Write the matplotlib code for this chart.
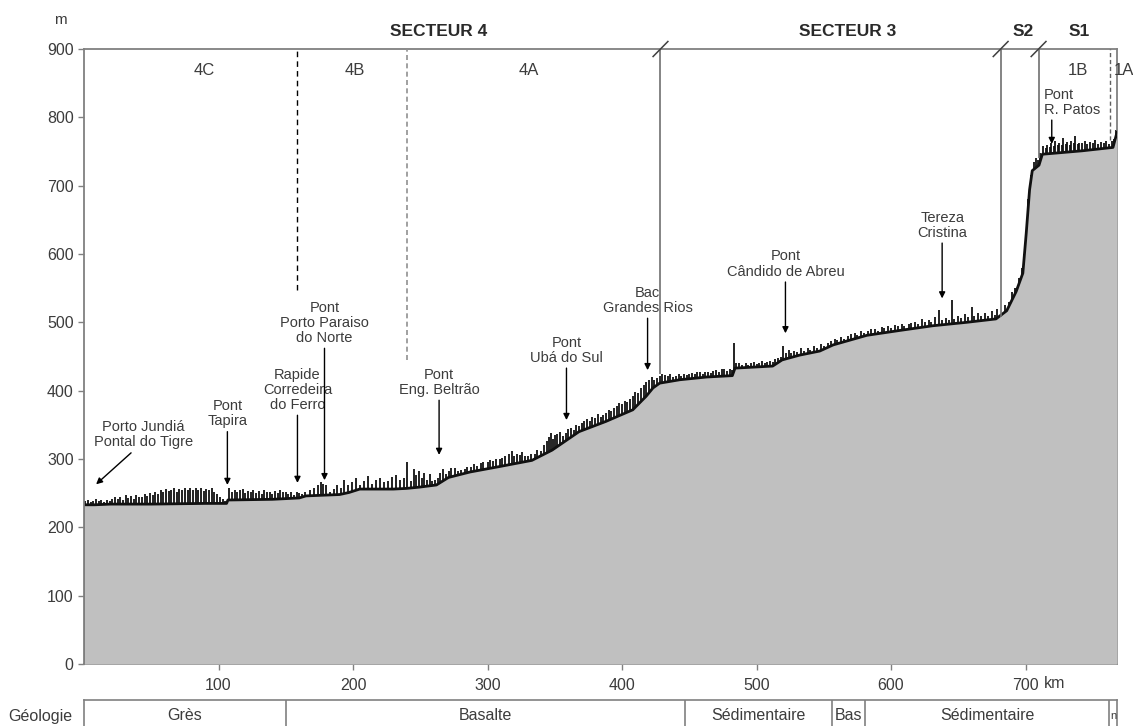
import matplotlib
matplotlib.use("Agg")
import matplotlib.pyplot as plt

plt.rcParams['font.family'] = ['Liberation Sans', 'DejaVu Sans']

# ---------------- data ----------------
base_km = [0, 8, 20, 50, 90, 106, 107, 140, 160, 165, 190, 197, 205, 230, 240, 250, 262, 271,
           287, 309, 333, 348, 368, 388, 408, 418, 423, 428, 443, 463, 482, 484, 512, 519, 532,
           547, 557, 582, 606, 631, 656, 678, 686, 693, 698, 700.5, 703, 705, 710, 712.5, 742,
           765, 768]
base_m = [233, 233, 234, 234, 235, 235, 240, 241, 243, 246, 248, 251, 256, 256, 257, 259, 262, 273,
          281, 289, 298, 313, 340, 355, 372, 392, 404, 411, 416, 420, 422, 433, 436, 445, 452,
          458, 467, 481, 488, 495, 500, 505, 517, 545, 572, 630, 694, 722, 730, 746, 751,
          756, 778]

# spikes of the water-surface trace (km, tip elevation)
spike_km_a = [1, 3, 5, 7, 9, 11, 13, 15, 17, 19, 21, 23, 25, 27, 29, 31, 33, 35, 37, 39, 41, 43,
              45, 47, 49, 51, 53, 55, 57, 59, 61, 63, 65, 67, 69, 71, 73, 75, 77, 79, 81, 83, 85,
              87, 89, 91, 93, 95, 97, 99, 101, 103, 105]
spike_m_a = [238, 240, 237, 239, 241, 238, 240, 237, 240, 239, 242, 245, 241, 244, 240, 247, 243,
             246, 242, 248, 245, 244, 249, 246, 250, 247, 251, 249, 254, 252, 256, 253, 255, 257,
             252, 256, 254, 258, 255, 257, 254, 258, 255, 257, 253, 256, 254, 257, 252, 249, 244,
             241, 239]
spike_km_b = [108, 110, 112, 114, 116, 118, 120, 122, 124, 126, 128, 130, 132, 134, 136, 138,
              140, 142, 144, 146, 148, 150, 152, 154, 156, 158, 160, 162, 164]
spike_m_b = [257, 252, 255, 251, 254, 256, 250, 253, 251, 255, 250, 253, 249, 254, 251, 252, 249,
             253, 250, 254, 251, 252, 249, 251, 248, 252, 250, 249, 251]
spike_km_c = [168, 171, 174, 176, 178, 180, 183, 186, 188, 191, 193, 196, 199, 202, 205, 208, 211,
              214, 217, 220, 223, 226, 229, 232, 235, 238, 240, 243, 245, 247, 249, 251, 253, 255,
              257, 259, 261]
spike_m_c = [255, 258, 262, 266, 264, 262, 252, 256, 262, 258, 270, 262, 266, 272, 262, 268, 275,
             264, 270, 272, 266, 268, 273, 276, 270, 272, 295, 268, 285, 276, 283, 272, 280, 270,
             278, 268, 270]
spike_km_d = [263, 265, 267, 269, 271, 273, 276, 278, 280, 283, 285, 288, 290, 292, 295, 297, 300,
              302, 304, 306, 309, 311, 313, 316, 318, 320, 322, 324, 326, 328, 330, 332, 335, 337,
              340, 342, 344, 346, 347, 349, 350, 352]
spike_m_d = [272, 280, 285, 278, 282, 287, 287, 283, 284, 286, 288, 289, 292, 290, 294, 296, 296,
             298, 297, 300, 300, 302, 305, 307, 311, 305, 308, 306, 310, 304, 305, 307, 308, 313,
             312, 320, 326, 332, 338, 330, 335, 336]
spike_km_e = [354, 356, 358, 360, 362, 364, 366, 368, 370, 372, 374, 376, 378, 380, 382, 384, 386,
              388, 390, 392, 394, 396, 398, 400, 402, 404, 406, 408, 410, 412, 414, 416, 418, 420,
              422, 424, 426, 428, 430]
spike_m_e = [340, 334, 338, 344, 345, 343, 350, 348, 352, 355, 358, 356, 362, 360, 366, 362, 365,
             368, 372, 370, 375, 378, 382, 380, 385, 383, 388, 392, 398, 396, 404, 408, 412, 415,
             420, 416, 418, 422, 425]
spike_km_f = [432, 434, 436, 438, 440, 442, 444, 446, 448, 450, 452, 454, 456, 458, 460, 462, 464,
              466, 468, 470, 472, 474, 476, 478, 480, 482, 483, 485, 487, 489, 492, 494, 496, 498,
              500, 502, 504, 506, 508, 510, 512, 514, 516, 518, 520, 522, 524]
spike_m_f = [423, 421, 424, 420, 422, 424, 421, 424, 423, 425, 426, 424, 427, 428, 425, 427, 428,
             426, 429, 430, 428, 431, 431, 429, 432, 430, 470, 441, 441, 438, 440, 437, 441, 442,
             439, 441, 443, 440, 442, 444, 442, 446, 448, 450, 465, 455, 460]
spike_km_g = [526, 528, 530, 533, 535, 538, 540, 543, 545, 548, 550, 553, 555, 558, 560, 563, 565,
              568, 570, 573, 575, 578, 580, 583, 585, 588, 590, 593, 595, 598, 600, 603, 605, 608,
              610, 613, 615, 618, 620, 623, 625, 628, 630, 633, 636, 638, 641, 643, 645, 647, 650,
              652, 655, 657, 660, 662, 665, 667, 670, 672, 675, 677, 679]
spike_m_g = [455, 458, 456, 462, 458, 463, 460, 465, 462, 468, 465, 470, 472, 476, 474, 478, 476,
             480, 483, 484, 482, 487, 485, 488, 490, 490, 488, 493, 491, 495, 492, 496, 494, 498,
             495, 497, 499, 500, 498, 505, 500, 503, 501, 508, 518, 504, 506, 503, 533, 505, 510,
             506, 512, 508, 523, 509, 514, 510, 514, 510, 516, 511, 520]
spike_km_h = [682, 685, 688, 690, 692, 695, 697, 699, 701, 702, 704, 706, 708, 709, 711]
spike_m_h = [512, 525, 530, 545, 550, 565, 580, 600, 650, 680, 715, 735, 740, 738, 748]
spike_km_i = [713, 715, 716, 718, 719, 721, 722, 724, 725, 727, 728, 730, 731, 733, 734, 736, 737,
              739, 740, 742, 744, 746, 748, 750, 752, 754, 756, 758, 760, 762, 764, 766, 767]
spike_m_i = [758, 755, 760, 757, 762, 758, 765, 759, 762, 760, 770, 761, 764, 760, 765, 762, 772,
             761, 763, 762, 766, 761, 764, 762, 767, 761, 764, 762, 765, 761, 766, 768, 782]

spike_km = (spike_km_a + spike_km_b + spike_km_c + spike_km_d + spike_km_e + spike_km_f
            + spike_km_g + spike_km_h + spike_km_i)
spike_m = (spike_m_a + spike_m_b + spike_m_c + spike_m_d + spike_m_e + spike_m_f
           + spike_m_g + spike_m_h + spike_m_i)

places = ["Porto Jundiá\nPontal do Tigre", "Pont\nTapira", "Rapide\nCorredeira\ndo Ferro",
          "Pont\nPorto Paraiso\ndo Norte", "Pont\nEng. Beltrão", "Pont\nUbá do Sul",
          "Bac\nGrandes Rios", "Pont\nCândido de Abreu", "Tereza\nCristina", "Pont\nR. Patos"]
place_tip_km = [9, 106.6, 158.7, 178.8, 264, 358.7, 419, 521.5, 638, 719.5]
place_tip_m = [263, 262, 265, 269, 306, 357, 430, 484, 535, 761]
arrow_top_km = [35, 106.6, 158.7, 178.8, 264, 358.7, 419, 521.5, 638, 719.5]
arrow_top_m = [309, 340, 364, 462, 386, 433, 506, 559, 616, 796]
label_km = [44, 106.6, 158.7, 178.8, 264, 358.7, 419, 521.5, 638, 713.5]

geo_names = ["Grès", "Basalte", "Sédimentaire", "Bas", "Sédimentaire", "n"]
geo_bounds = [0, 150, 447, 556, 581, 762, 768]

sub_labels = ["4C", "4B", "4A", "1B", "1A"]
sub_km = [89.6, 201, 331, 738.7, 773]
sect_labels = ["SECTEUR 4", "SECTEUR 3", "S2", "S1"]
sect_km = [264, 568, 698.5, 740]

x_ticks = [100, 200, 300, 400, 500, 600, 700]
y_ticks = [0, 100, 200, 300, 400, 500, 600, 700, 800, 900]

# ---------------- figure ----------------
W, H = 1133, 726
fig = plt.figure(figsize=(W / 100, H / 100), dpi=100)
ax = fig.add_axes([84 / W, 1 - 664 / H, (1117 - 84) / W, (664 - 49) / H])
ax.set_xlim(0, 768)
ax.set_ylim(0, 900)

txtc = '#3c3c3c'
spc = '#808080'

ax.vlines(spike_km, 0, spike_m, color='#111111', lw=1.3, zorder=2)
ax.fill_between(base_km, 0, base_m, color='#c0c0c0', lw=0, zorder=3)
ax.plot(base_km, base_m, color='#111111', lw=2.0, zorder=4)

# sector division lines
ax.vlines(158.7, 547, 900, colors='black', linestyles=(0, (4, 3)), lw=1.0, zorder=5)
ax.vlines(240.5, 445, 900, colors='#909090', linestyles=(0, (3, 2)), lw=1.2, zorder=5)
ax.vlines(428.6, 425, 900, colors='#707070', lw=1.2, zorder=5)
ax.vlines(681.5, 508, 900, colors='#707070', lw=1.2, zorder=5)
ax.vlines(709.7, 740, 900, colors='#707070', lw=1.2, zorder=5)
ax.vlines(762.5, 767, 900, colors='#606060', linestyles=(0, (3, 2)), lw=1.0, zorder=5)
for xb in [428.6, 681.5, 709.7]:
    ax.plot([xb - 5.5, xb + 5.5], [889, 911], color='#404040', lw=1.1, clip_on=False, zorder=6)

# annotations
for name, tk, tm, ak, am, lk in zip(places, place_tip_km, place_tip_m, arrow_top_km,
                                    arrow_top_m, label_km):
    ha = 'left' if name.startswith("Pont\nR.") else 'center'
    ax.annotate("", xy=(tk, tm), xytext=(ak, am),
                arrowprops=dict(arrowstyle='-|>', color='black', lw=1.0,
                                mutation_scale=9, shrinkA=0, shrinkB=0), zorder=7)
    ax.text(lk, am + 5, name, ha=ha, va='bottom', fontsize=10.5, color=txtc,
            linespacing=1.1, zorder=7)

for lab, k in zip(sub_labels, sub_km):
    ax.text(k, 869, lab, ha='center', va='center', fontsize=12, color=txtc, clip_on=False)
for lab, k in zip(sect_labels, sect_km):
    ax.text(k, 925, lab, ha='center', va='center', fontsize=12.5, color='#2a2a2a',
            fontweight='bold', clip_on=False)

ax.set_xticks(x_ticks)
ax.set_xticklabels([str(v) for v in x_ticks])
ax.set_yticks(y_ticks)
ax.tick_params(axis='both', direction='out', length=4, width=1, color=spc,
               labelsize=11.5, labelcolor=txtc)
ax.tick_params(axis='x', pad=6)
ax.text(714, -29, "km", ha='left', va='center', fontsize=11.5, color=txtc, clip_on=False)
for s in ax.spines.values():
    s.set_color(spc)
    s.set_linewidth(1.3)
ax.spines['left'].set_zorder(8)

fig.text(60 / W, 1 - 20 / H, "m", ha='center', va='center', fontsize=11, color=txtc)

# geology bar
gax = fig.add_axes([84 / W, -0.02, (1117 - 84) / W, (726 - 700) / H + 0.02])
gax.set_xlim(0, 768)
gax.set_ylim(0, 1)
gax.set_xticks([])
gax.set_yticks([])
gax.patch.set_alpha(0)
for s in gax.spines.values():
    s.set_color(spc)
    s.set_linewidth(1.2)
for b in geo_bounds[1:-1]:
    gax.axvline(b, color=spc, lw=1.2)
for i, g in enumerate(geo_names):
    c = (geo_bounds[i] + geo_bounds[i + 1]) / 2
    fig.text((84 + c * (1117 - 84) / 768) / W, 1 - 716 / H, g, ha='center', va='center',
             fontsize=11.5 if g != 'n' else 8, color=txtc)
fig.text(40 / W, 1 - 716 / H, "Géologie", ha='center', va='center', fontsize=11.5, color=txtc)

fig.savefig("out.png", dpi=100)
